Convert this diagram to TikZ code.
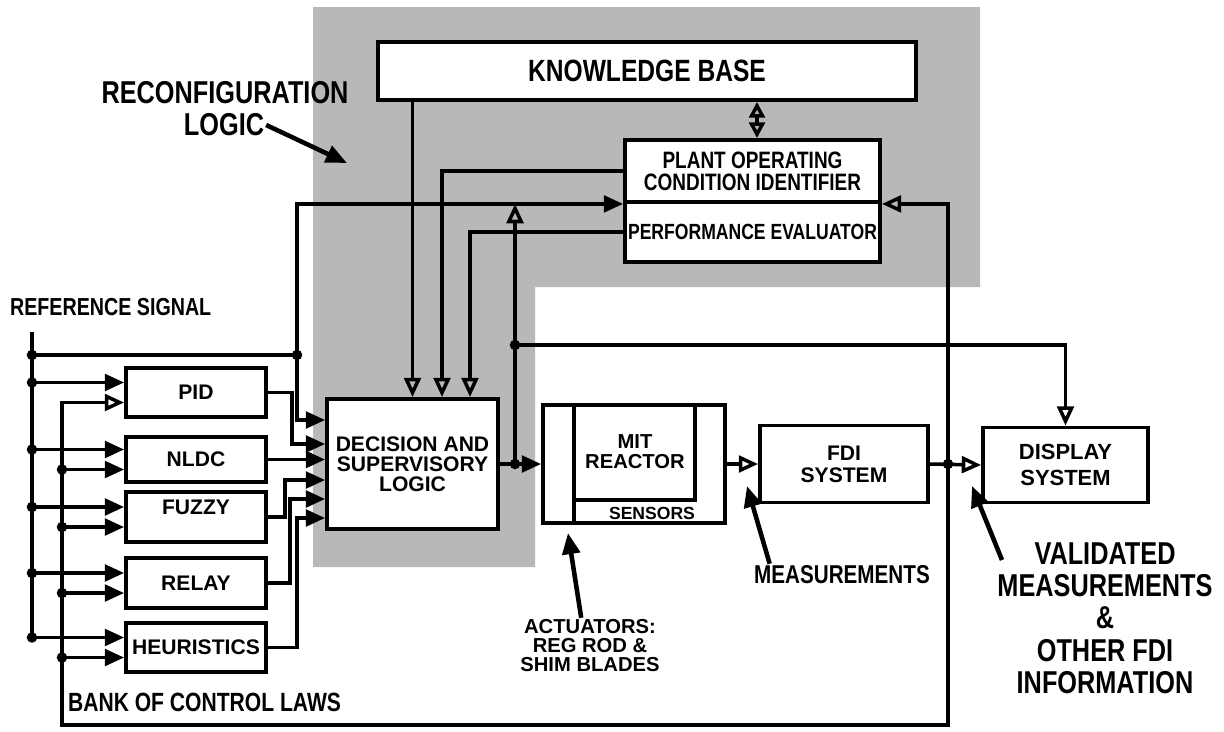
\documentclass[tikz,border=0pt]{standalone}
\usepackage{fontspec}
\setmainfont{Liberation Sans}
\newfontfamily\narrowfont{Liberation Sans}[FakeStretch=0.8]
\usetikzlibrary{arrows.meta}
\newcommand{\wfont}[2]{\fontsize{#1}{#2}\selectfont\bfseries}
\newcommand{\nfont}[2]{\narrowfont\fontsize{#1}{#2}\selectfont\bfseries}
\tikzset{
  blk/.style={draw, line width=2.2pt, fill=white, inner sep=0pt},
  wtxt/.style 2 args={font=\wfont{#1}{#2}, align=center, inner sep=1pt},
  ntxt/.style 2 args={font=\nfont{#1}{#2}, align=center, inner sep=1pt},
  sig/.style={line width=2pt},
  oarrow/.style={-{Triangle[open,length=11pt,width=9.5pt]}},
  pointer/.style={line width=2.6pt, -{Triangle[length=12pt,width=10pt]}},
  jdot/.style={circle, fill, inner sep=0pt, minimum size=6pt}
}

\begin{document}
\begin{tikzpicture}[x=0.02cm, y=-0.02cm, >={Triangle[length=11pt,width=9.5pt]}]
  \useasboundingbox (0,0) rectangle (1224,731);
  % reconfiguration logic area
  \fill[black!28] (313,7) -- (980,7) -- (980,287) -- (535,287) -- (535,567) -- (313,567) -- cycle;

  % upper blocks
  \node[blk, minimum width=10.76cm, minimum height=1.16cm, ntxt={17.5}{18}] (kb) at (647,71) {KNOWLEDGE BASE};
  \node[blk, minimum width=5.1cm, minimum height=1.24cm, ntxt={13.5}{12.5}] (poci) at (752.5,171) {PLANT OPERATING\\CONDITION IDENTIFIER};
  \node[blk, minimum width=5.1cm, minimum height=1.2cm, ntxt={12.5}{12.5}] (pe) at (752.5,232) {PERFORMANCE EVALUATOR};
  \node[blk, minimum width=3.42cm, minimum height=2.6cm, wtxt={12}{11.5}] (dec) at (412.5,464) {DECISION AND\\SUPERVISORY\\LOGIC};

  % bank of control laws
  \node[blk, minimum width=2.8cm, minimum height=0.98cm, wtxt={12}{12}] (pid) at (196,392.5) {PID};
  \node[blk, minimum width=2.8cm, minimum height=0.9cm, wtxt={12}{12}] (nldc) at (196,459.5) {NLDC};
  \node[blk, minimum width=2.8cm, minimum height=1.0cm, wtxt={12}{12}, text depth=11.4pt] (fuzzy) at (196,517) {FUZZY};
  \node[blk, minimum width=2.8cm, minimum height=1.0cm, wtxt={12}{12}] (relay) at (196,583) {RELAY};
  \node[blk, minimum width=2.8cm, minimum height=0.98cm, wtxt={12}{12}] (heur) at (196,647.5) {HEURISTICS};

  % plant and fdi
  \node[blk, minimum width=3.64cm, minimum height=2.36cm] (reactor) at (634,464) {};
  \draw[line width=2.2pt] (reactor.north -| 574,0) -- (reactor.south -| 574,0)
    (574,500) -| (reactor.north -| 695,0);
  \node[wtxt={11.5}{11.5}] (mit) at (635,452) {MIT\\REACTOR};
  \node[wtxt={10}{10}] (sens) at (652,513) {SENSORS};
  \node[blk, minimum width=3.36cm, minimum height=1.54cm, wtxt={12}{12.5}] (fdi) at (844,464) {FDI\\SYSTEM};
  \node[blk, minimum width=3.3cm, minimum height=1.5cm, wtxt={12.5}{15}] (disp) at (1065.5,465) {DISPLAY\\SYSTEM};

  % labels
  \node[ntxt={18}{18}] (reconf) at (225,93) {RECONFIGURATION};
  \node[ntxt={18}{18}] (logic) at (224,125) {LOGIC};
  \node[ntxt={14}{14}, anchor=west] (refsig) at (8,307) {REFERENCE SIGNAL};
  \node[ntxt={15}{15}, anchor=west] (bank) at (66,702) {BANK OF CONTROL LAWS};
  \node[wtxt={11.5}{10.8}] (act) at (590,646) {ACTUATORS:\\REG ROD \&\\SHIM BLADES};
  \node[ntxt={14.7}{15}] (meas) at (842,575) {MEASUREMENTS};
  \node[ntxt={18}{18.4}] (valid) at (1105,618) {VALIDATED\\MEASUREMENTS\\\&\\OTHER FDI\\INFORMATION};

  % reference signal rail
  \coordinate (refTop) at (32,332);
  \coordinate (refBot) at (32,637);
  \coordinate (jref) at (297,355);
  \draw[sig] (refTop) -- (refBot);
  \draw[sig] (refTop |- jref) -- (jref);
  \node[jdot] at (refTop |- jref) {};
  \node[jdot] at (jref) {};
  \draw[sig,->] (jref) |- (poci.south west);
  \draw[sig,->] (jref) |- (dec.west |- 0,420);
  \foreach \b in {pid,nldc,fuzzy,relay,heur}{
    \coordinate (\b-in1) at ([yshift=5.7pt]\b.west);
    \coordinate (\b-in2) at ([yshift=-5.7pt]\b.west);
    \draw[sig,->] (refTop |- \b-in1) -- (\b-in1);
    \node[jdot] at (refTop |- \b-in1) {};
  }

  % feedback of validated measurements
  \coordinate (fbCorner) at (62,725);
  \coordinate (jfdi) at (fdi.east -| 948,0);
  \draw[sig,oarrow] (jfdi) |- (fbCorner) |- (pid-in2);
  \foreach \b in {nldc,fuzzy,relay,heur}{
    \draw[sig,->] (fbCorner |- \b-in2) -- (\b-in2);
    \node[jdot] at (fbCorner |- \b-in2) {};
  }
  \draw[sig,oarrow] (jfdi) |- (poci.south east);

  % control laws into decision logic
  \draw[sig,->] (pid.east) -- ++(24,0) |- (dec.west |- 0,444);
  \draw[sig,->] (nldc.east) -- (dec.west |- nldc.east);
  \draw[sig,->] (fuzzy.east) -- ++(17,0) |- (dec.west |- 0,480);
  \draw[sig,->] (relay.east) -- ++(22,0) |- (dec.west |- 0,499);
  \draw[sig,->] (heur.east) -- ++(29,0) |- (dec.west |- 0,518);

  % reconfiguration links
  \draw[sig,oarrow] (kb.south -| dec.north) -- (dec.north);
  \draw[sig,oarrow] (poci.west) -| (dec.north -| 442,0);
  \draw[sig,oarrow] (pe.west) -| (dec.north -| 470,0);
  \draw[sig,{Triangle[open,length=9pt,width=9pt]}-{Triangle[open,length=9pt,width=9pt]}]
    (kb.south -| 757,0) -- (poci.north -| 757,0);

  % control action and measurements
  \coordinate (jdec) at (dec.east -| 515,0);
  \coordinate (jdisp) at (jdec |- 0,345);
  \draw[sig,->] (dec.east) -- (reactor.west);
  \node[jdot] at (jdec) {};
  \draw[sig,oarrow] (jdec) -- (jdec |- poci.south west);
  \draw[sig,oarrow] (jdisp) -| (disp.north);
  \node[jdot] at (jdisp) {};
  \draw[sig,oarrow] (reactor.east) -- (fdi.west);
  \draw[sig,oarrow] (fdi.east) -- (disp.west);
  \node[jdot] at (jfdi) {};

  % pointers
  \coordinate (reconfTip) at (347,163);
  \coordinate (actTip) at (568,533);
  \coordinate (measTip) at (747,486);
  \coordinate (validTail) at (1002,560);
  \coordinate (validTip) at (972,486);
  \draw[pointer] (logic.east) -- (reconfTip);
  \draw[pointer] ([xshift=-5pt]act.north) -- (actTip);
  \draw[pointer] ([xshift=10pt]meas.north west) -- (measTip);
  \draw[pointer] (validTail) -- (validTip);
\end{tikzpicture}
\end{document}
